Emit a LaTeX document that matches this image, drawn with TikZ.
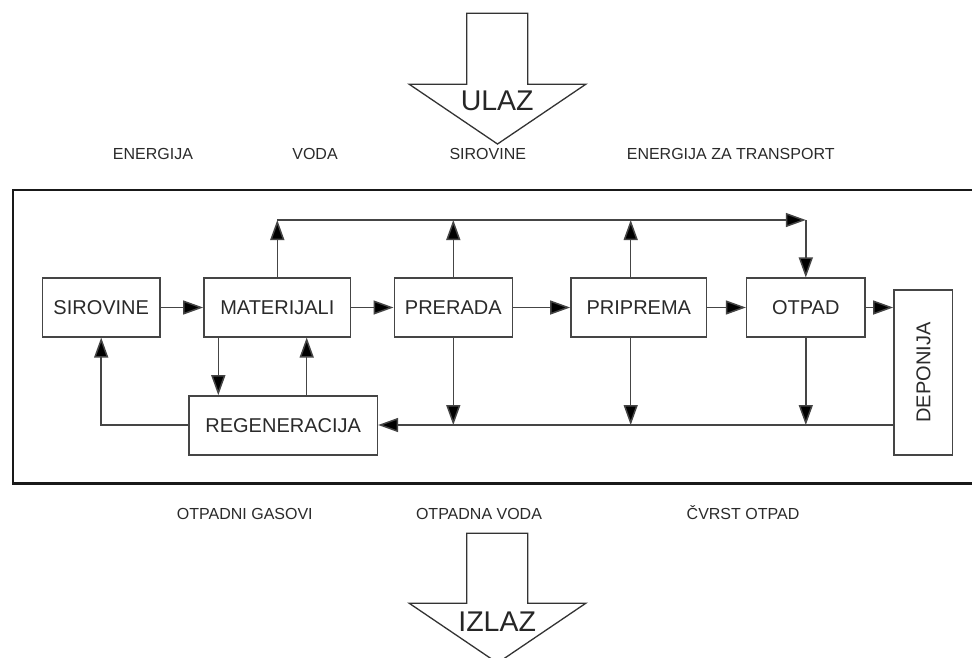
\documentclass[tikz,border=0pt]{standalone}
\usepackage{fontspec}
\setmainfont{Liberation Sans}
\usetikzlibrary{arrows.meta}
\definecolor{ln}{HTML}{454545}
\definecolor{tx}{HTML}{2A2A2A}
\begin{document}
\begin{tikzpicture}[x=1pt,y=-1pt,
  blk/.style={draw=ln,line width=1.6pt,minimum height=58.5pt,inner sep=0pt,
    font=\fontsize{20}{20}\selectfont,text=tx,text height=14.3pt,text depth=0pt},
  lbl/.style={inner sep=0pt,font=\fontsize{16}{16}\selectfont,text=tx,text height=11.5pt,text depth=0pt},
  big/.style={inner sep=0pt,font=\fontsize{28.5}{28.5}\selectfont,text=black!85,text height=20.4pt,text depth=0pt},
  arr/.style={draw=ln,line width=1.5pt,-{Triangle[length=20pt,width=14pt,fill=black]}},
  ln/.style={draw=ln,line width=1.5pt}]
\clip (0,0) rectangle (972,657);
\fill[white] (0,0) rectangle (972,657);

% big arrows
\draw[line width=1.3pt,draw=black!80,line join=miter] (466.7,13.3) -- (527.7,13.3) -- (527.7,84.3) -- (585.7,84.3) -- (497.5,144) -- (409.3,84.3) -- (466.7,84.3) -- cycle;
\node[big] (ulaz) at (497.2,100.3) {ULAZ};
\draw[line width=1.3pt,draw=black!80,line join=miter] (466.7,533.3) -- (527.7,533.3) -- (527.7,603.3) -- (585.7,603.3) -- (497.5,663) -- (409.3,603.3) -- (466.7,603.3) -- cycle;
\node[big] (izlaz) at (497.2,621.7) {IZLAZ};

% labels
\node[lbl] (l1) at (153,153.3) {ENERGIJA};
\node[lbl] (l2) at (315,153.3) {VODA};
\node[lbl] (l3) at (487.8,153.3) {SIROVINE};
\node[lbl] (l4) at (730.7,153.3) {ENERGIJA ZA TRANSPORT};
\node[lbl] (l5) at (244.8,513.3) {OTPADNI GASOVI};
\node[lbl] (l6) at (479,513.3) {OTPADNA VODA};
\node[lbl] (l7) at (743,513.3) {ČVRST OTPAD};

% frame
\draw[line width=2.2pt,draw=black!90] (13,190) rectangle (990,483.5);

% blocks
\node[blk,minimum width=117.7pt] (sir) at (101.2,307.5) {SIROVINE};
\node[blk,minimum width=146.7pt] (mat) at (277.3,307.5) {MATERIJALI};
\node[blk,minimum width=118pt] (prer) at (453.3,307.5) {PRERADA};
\node[blk,minimum width=135.7pt] (prip) at (638.8,307.5) {PRIPREMA};
\node[blk,minimum width=118.3pt] (otp) at (805.8,307.5) {OTPAD};
\node[blk,minimum width=188.3pt,minimum height=59pt] (reg) at (283.2,425.5) {REGENERACIJA};
\node[blk,minimum width=165pt,minimum height=58.7pt,rotate=90] (dep) at (923.3,372.5) {DEPONIJA};

\coordinate (tl) at (277.3,220);
\coordinate (tr) at (805.8,220);
\coordinate (pu) at (630.7,220);
\coordinate (pb) at (630.7,336.8);
\coordinate (bl) at (0,425);

% horizontal flow
\draw[arr] (sir) -- (mat);
\draw[arr] (mat) -- (prer);
\draw[arr] (prer) -- (prip);
\draw[arr] (prip) -- (otp);
\draw[arr] (otp.east) -- (otp.east -| dep.north);

% top loop
\draw[arr] (mat.north) -- (tl);
\draw[arr] (tl) -- (tr);
\draw[arr] (tr) -- (otp.north);
\draw[arr] (prer.north) -- (prer.north |- tl);
\draw[arr] (pu |- prip.north) -- (pu);

% bottom line
\draw[arr] (dep.north |- bl) -- (reg.east |- bl);
\draw[arr] (prer.south) -- (prer.south |- bl);
\draw[arr] (pb) -- (pb |- bl);
\draw[arr] (otp.south) -- (otp.south |- bl);

% materijali <-> regeneracija
\draw[arr] ([xshift=-59pt]mat.south) -- ([xshift=-59pt]mat.south |- reg.north);
\draw[arr] ([xshift=29.4pt]mat.south |- reg.north) -- ([xshift=29.4pt]mat.south);

% regeneracija -> sirovine
\draw[arr] (reg.west |- bl) -- (sir.south |- bl) -- (sir.south);
\end{tikzpicture}
\end{document}
